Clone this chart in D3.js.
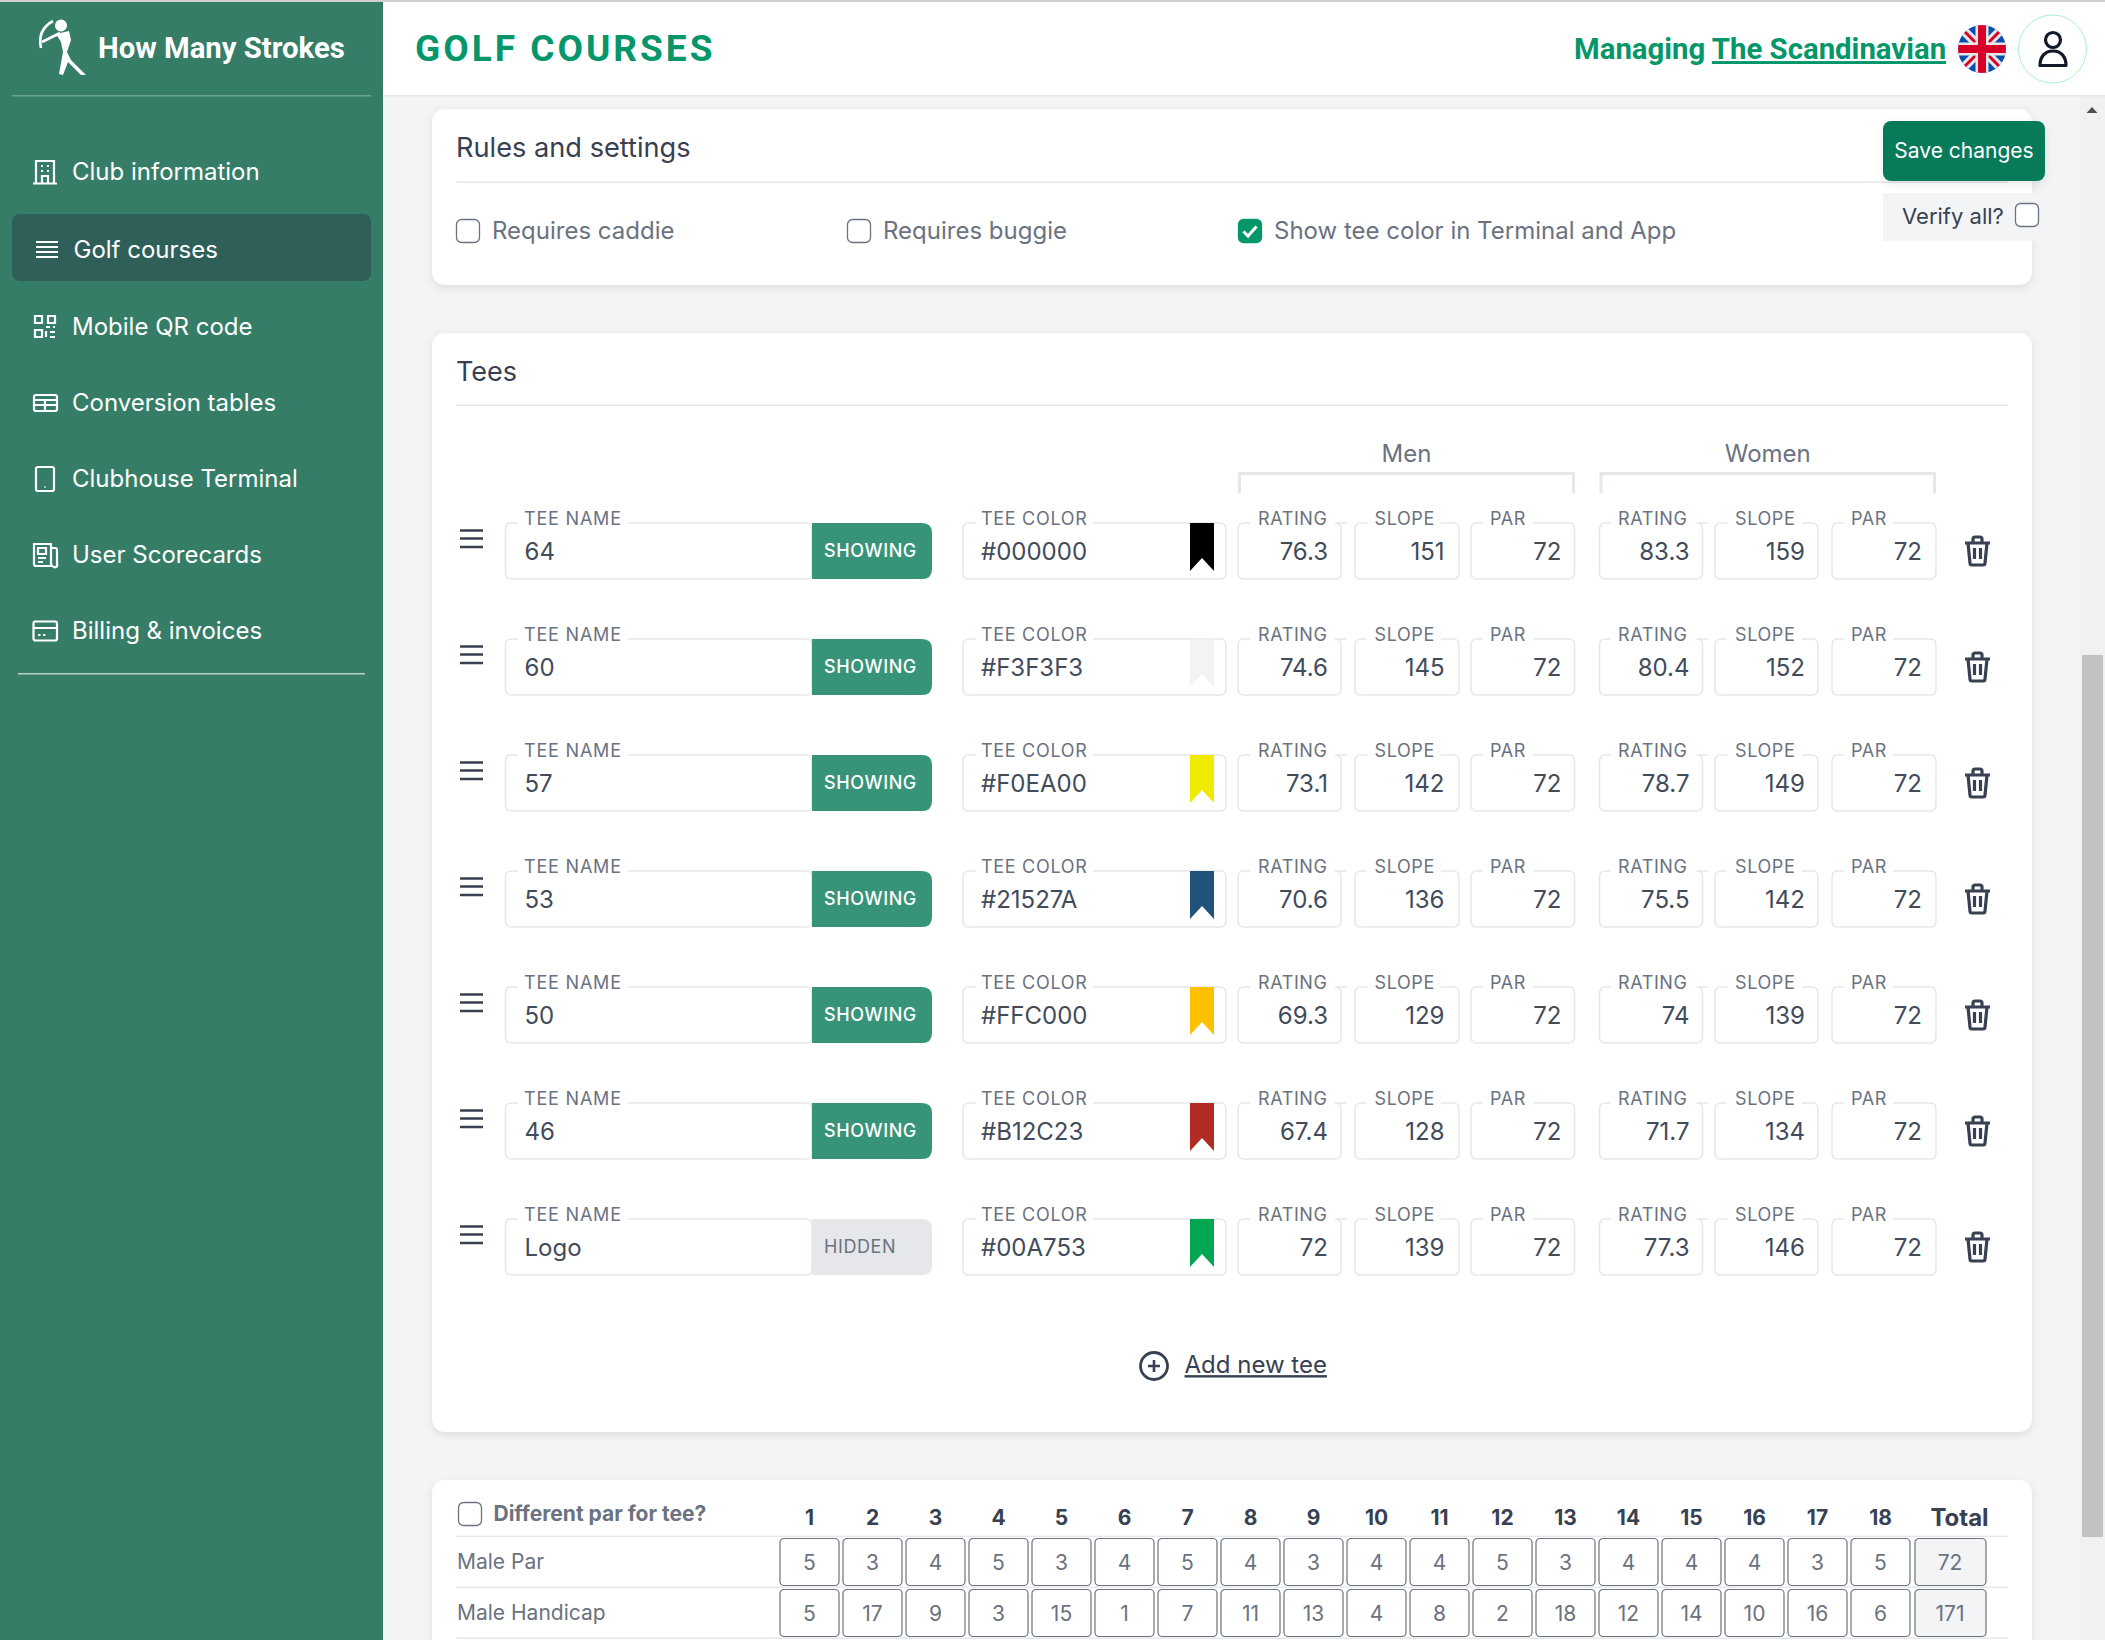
<!DOCTYPE html>
<html>
<head>
<meta charset="utf-8">
<script src="https://cdnjs.cloudflare.com/ajax/libs/d3/7.8.5/d3.min.js"></script>
<style>
  html, body { margin: 0; padding: 0; background: #f3f4f6; overflow: hidden; }
  svg { display: block; }
  text { font-family: Inter, sans-serif; }
  .card { filter: drop-shadow(0 3px 4px rgba(0,0,0,.09)); }
</style>
</head>
<body>
<div class="canvas"></div>
<script>
const dimensions = { width: 2105, height: 1640, side: 383, head: 96 };
const { width, height, side, head } = dimensions;

//Data
const navItems = [
  { name: 'Club information', y: 171.5, x: 72, icon: 'building' },
  { name: 'Golf courses', y: 249.5, x: 73.5, icon: 'menu', active: true },
  { name: 'Mobile QR code', y: 326.5, x: 72, icon: 'qr' },
  { name: 'Conversion tables', y: 402.5, x: 72, icon: 'table' },
  { name: 'Clubhouse Terminal', y: 478.5, x: 72, icon: 'tablet' },
  { name: 'User Scorecards', y: 554.5, x: 72, icon: 'news' },
  { name: 'Billing & invoices', y: 630.5, x: 72, icon: 'card' }
];

const tees = [
  { name: '64', shown: true, color: '#000000', men: ['76.3', '151', '72'], women: ['83.3', '159', '72'] },
  { name: '60', shown: true, color: '#F3F3F3', men: ['74.6', '145', '72'], women: ['80.4', '152', '72'] },
  { name: '57', shown: true, color: '#F0EA00', men: ['73.1', '142', '72'], women: ['78.7', '149', '72'] },
  { name: '53', shown: true, color: '#21527A', men: ['70.6', '136', '72'], women: ['75.5', '142', '72'] },
  { name: '50', shown: true, color: '#FFC000', men: ['69.3', '129', '72'], women: ['74', '139', '72'] },
  { name: '46', shown: true, color: '#B12C23', men: ['67.4', '128', '72'], women: ['71.7', '134', '72'] },
  { name: 'Logo', shown: false, color: '#00A753', men: ['72', '139', '72'], women: ['77.3', '146', '72'] }
];

const scoreRows = [
  { name: 'Male Par', values: [5, 3, 4, 5, 3, 4, 5, 4, 3, 4, 4, 5, 3, 4, 4, 4, 3, 5], total: 72 },
  { name: 'Male Handicap', values: [5, 17, 9, 3, 15, 1, 7, 11, 13, 4, 8, 2, 18, 12, 14, 10, 16, 6], total: 171 }
];

const scoreFields = [
  { label: 'RATING', x0: 1238, x1: 1341, tx: 1258, pad: 13, gap: [1250, 1347] },
  { label: 'SLOPE', x0: 1355, x1: 1459, tx: 1374.5, pad: 14.5, gap: [1367, 1441] },
  { label: 'PAR', x0: 1471, x1: 1574.5, tx: 1490, pad: 13, gap: [1483, 1533] },
  { label: 'RATING', x0: 1599.5, x1: 1702.5, tx: 1618, pad: 13, gap: [1611, 1708] },
  { label: 'SLOPE', x0: 1715, x1: 1818, tx: 1735, pad: 13, gap: [1727, 1802] },
  { label: 'PAR', x0: 1832, x1: 1936, tx: 1851, pad: 14, gap: [1844, 1893] }
];

//Scales
const rowY = d3.scaleLinear().domain([0, tees.length - 1]).range([523, 1219]);
const holeX = d3.scaleLinear().domain([1, 18]).range([809.5, 1880.5]);
const scoreY = d3.scaleLinear().domain([0, 1]).range([1538, 1589]);

//Colors
const green = '#059669';
const textDark = '#374151';
const textValue = '#414b5a';
const textGray = '#6b7280';
const line = '#e5e7eb';

//Canvas
const svg = d3.select('.canvas').append('svg').attr('width', width).attr('height', height);

const addText = (g, str, x, y, size, fill, opts = {}) =>
  g.append('text')
    .attr('x', x)
    .attr('y', y)
    .attr('dy', '0.36em')
    .attr('font-size', size)
    .attr('fill', fill)
    .attr('text-anchor', opts.anchor || 'start')
    .attr('font-weight', opts.weight || 400)
    .attr('letter-spacing', opts.spacing || 0)
    .style('font-family', opts.family || null)
    .text(str);

const addCheckbox = (g, x, y, w, h, checked) => {
  g.append('rect')
    .attr('x', x + 0.5).attr('y', y + 0.5)
    .attr('width', w - 1).attr('height', h - 1).attr('rx', 5)
    .attr('fill', checked ? green : '#fff')
    .attr('stroke', checked ? green : textGray)
    .attr('stroke-width', 1.3);
  if (checked) {
    g.append('path')
      .attr('d', `M${x + 5.5} ${y + 12.5}l4.5 4.5l8.5 -9.5`)
      .attr('fill', 'none').attr('stroke', '#fff').attr('stroke-width', 3);
  }
};

//Page background
svg.append('rect').attr('width', width).attr('height', height).attr('fill', '#f3f4f6');

//Scrollbar
svg.append('rect').attr('x', 2080).attr('y', head).attr('width', 25).attr('height', height - head).attr('fill', '#f1f1f1');
svg.append('rect').attr('x', 2082).attr('y', 655).attr('width', 21).attr('height', 882).attr('fill', '#c1c1c1');
svg.append('path').attr('d', 'M2086.5 113l5.5 -6l5.5 6z').attr('fill', '#505050');

//Cards
const cards = [
  { y: 109, h: 176 },
  { y: 333, h: 1099 },
  { y: 1480, h: 300 }
];
svg.append('g').selectAll('rect').data(cards).join('rect')
  .attr('class', 'card')
  .attr('x', 432).attr('y', (d) => d.y)
  .attr('width', 1600).attr('height', (d) => d.h)
  .attr('rx', 13).attr('fill', '#fff');

//Header
svg.append('rect').attr('x', side).attr('width', width - side).attr('height', head).attr('fill', '#fff');
svg.append('rect').attr('x', side).attr('y', head - 1).attr('width', width - side).attr('height', 1.5).attr('fill', '#e5e7eb');
svg.append('rect').attr('width', width).attr('height', 2).attr('fill', '#cfcfcf');

const header = svg.append('g');
addText(header, 'GOLF COURSES', 415, 48, 37, green, { weight: 700, spacing: 3, family: 'Roboto' });
const managing = addText(header, 'Managing ', 1574, 48.5, 29.35, green, { weight: 700, family: 'Roboto' });
managing.attr('xml:space', 'preserve').style('white-space', 'pre');
managing.append('tspan').attr('text-decoration', 'underline').text('The Scandinavian');

//Flag
const defs = svg.append('defs');
defs.append('clipPath').attr('id', 'flagClip').append('circle').attr('cx', 1982).attr('cy', 49).attr('r', 24);
const flag = svg.append('g').attr('clip-path', 'url(#flagClip)');
flag.append('rect').attr('x', 1958).attr('y', 25).attr('width', 48).attr('height', 48).attr('fill', '#0a4eb0');
flag.append('path').attr('d', 'M1958 25L2006 73M2006 25L1958 73').attr('stroke', '#e8e8e8').attr('stroke-width', 9);
flag.append('path').attr('d', 'M1958 25L2006 73M2006 25L1958 73').attr('stroke', '#d80027').attr('stroke-width', 3);
flag.append('path').attr('d', 'M1982 25V73M1958 49H2006').attr('stroke', '#e8e8e8').attr('stroke-width', 13);
flag.append('path').attr('d', 'M1982 25V73M1958 49H2006').attr('stroke', '#d80027').attr('stroke-width', 8);

//User button
svg.append('circle').attr('cx', 2052.5).attr('cy', 49).attr('r', 34).attr('fill', '#fff').attr('stroke', '#a7f3d0').attr('stroke-width', 1);
svg.append('circle').attr('cx', 2053).attr('cy', 40).attr('r', 7.5).attr('fill', 'none').attr('stroke', '#111827').attr('stroke-width', 3.2);
svg.append('path').attr('d', 'M2040 65.5c0 -9 5 -14.5 13 -14.5s13 5.5 13 14.5z').attr('fill', 'none').attr('stroke', '#111827').attr('stroke-width', 3.2).attr('stroke-linejoin', 'round');

//Sidebar
const sidebar = svg.append('g');
sidebar.append('rect').attr('width', side).attr('y', 2).attr('height', height).attr('fill', '#367d68');
sidebar.append('rect').attr('x', 12).attr('y', 95).attr('width', 359).attr('height', 1.5).attr('fill', '#6ba594');
sidebar.append('rect').attr('x', 12).attr('y', 214).attr('width', 359).attr('height', 67).attr('rx', 8).attr('fill', '#2f5f59');
sidebar.append('rect').attr('x', 18).attr('y', 673).attr('width', 347).attr('height', 1.5).attr('fill', '#b9d3ca');

//Logo
const logo = sidebar.append('g').attr('fill', '#fff').attr('stroke', 'none');
logo.append('circle').attr('cx', 61).attr('cy', 25.5).attr('r', 6);
logo.append('path').attr('d', 'M56 34L69 31L71 40L67 52L71 60L86 75L81 75L68 62L63 75L59 74L63 52L61 42Z');
logo.append('path').attr('d', 'M53 21Q37 30 41 48').attr('fill', 'none').attr('stroke', '#fff').attr('stroke-width', 2.6);
logo.append('path').attr('d', 'M42 42L60 33').attr('fill', 'none').attr('stroke', '#fff').attr('stroke-width', 2.6);
addText(sidebar, 'How Many Strokes', 98, 47.5, 29.3, '#fff', { weight: 700, family: 'Roboto' });

//Nav Icons, drawn in a 24 box
const icons = {
  building: 'M0 23.5H24M3 23.5V1H21V23.5M9 23.5V16H15V23.5M8 6H10M14 6H16M8 11H10M14 11H16',
  menu: 'M1 4H23M1 9H23M1 14H23M1 19H23',
  qr: 'M2 1H9V8H2ZM2 15H9V22H2ZM15 1H22V8H15ZM13 12H17M20 12H22M13 16V22M17 17H22M17 22H22',
  table: 'M3 4H22A2 2 0 0 1 24 6V18A2 2 0 0 1 22 20H3A2 2 0 0 1 1 18V6A2 2 0 0 1 3 4ZM1 9H24M1 14H24M12 9V20',
  tablet: 'M5 0H19A2 2 0 0 1 21 2V22A2 2 0 0 1 19 24H5A2 2 0 0 1 3 22V2A2 2 0 0 1 5 0ZM11.5 20H12.5',
  news: 'M1 1H18V21A2 2 0 0 0 20 23H3A2 2 0 0 1 1 21ZM18 5H22A2 2 0 0 1 24 7V21A2 2 0 0 1 20 23M5 5H13V11H5ZM5 15H13M5 19H10',
  card: 'M3 2.5H22A2 2 0 0 1 24 4.5V19.5A2 2 0 0 1 22 21.5H3A2 2 0 0 1 0.5 19.5V4.5A2 2 0 0 1 3 2.5ZM0.5 9H24M5 16H7.5M10 16H12.5'
};

const nav = sidebar.append('g').selectAll('g').data(navItems).join('g');
nav.append('path')
  .attr('transform', (d) => `translate(${d.icon === 'menu' ? 35 : 33},${d.y - 11.5})`)
  .attr('d', (d) => icons[d.icon])
  .attr('fill', 'none').attr('stroke', '#fff').attr('stroke-width', 2.2);
nav.append('text')
  .attr('x', (d) => d.x).attr('y', (d) => d.y).attr('dy', '0.36em')
  .attr('font-size', 24).attr('fill', '#fff')
  .text((d) => d.name);

//Rules and settings
const rules = svg.append('g');
addText(rules, 'Rules and settings', 456, 147, 27.2, textDark);
rules.append('rect').attr('x', 456).attr('y', 181.5).attr('width', 1552).attr('height', 1.5).attr('fill', line);
[
  { x: 456, tx: 492, label: 'Requires caddie', checked: false },
  { x: 847, tx: 883, label: 'Requires buggie', checked: false },
  { x: 1238, tx: 1274, label: 'Show tee color in Terminal and App', checked: true }
].forEach((d) => {
  addCheckbox(rules, d.x, 219, 24, 24, d.checked);
  addText(rules, d.label, d.tx, 230, 24, textGray);
});

//Save Button
const save = svg.append('g');
save.append('rect').attr('x', 1883).attr('y', 193).attr('width', 162).attr('height', 48).attr('fill', '#f3f4f6');
save.append('rect').attr('class', 'card').attr('x', 1883).attr('y', 121).attr('width', 162).attr('height', 60).attr('rx', 8).attr('fill', '#077a5a');
addText(save, 'Save changes', 1964, 150.5, 21, '#fff', { anchor: 'middle' });
addText(save, 'Verify all?', 1902, 216.5, 22, textDark);
addCheckbox(save, 2015, 203, 24, 24, false);

//Tees
const teesCard = svg.append('g');
addText(teesCard, 'Tees', 456, 371, 27, textDark);
teesCard.append('rect').attr('x', 456).attr('y', 404.5).attr('width', 1552).attr('height', 1.5).attr('fill', line);

[
  { name: 'Men', x0: 1238, x1: 1575 },
  { name: 'Women', x0: 1599.5, x1: 1936 }
].forEach((d) => {
  addText(teesCard, d.name, (d.x0 + d.x1) / 2, 453, 24, textGray, { anchor: 'middle' });
  teesCard.append('path')
    .attr('d', `M${d.x0 + 1.5} 493V473.5H${d.x1 - 1.5}V493`)
    .attr('fill', 'none').attr('stroke', line).attr('stroke-width', 3);
});

//Outline box with a gap left for the floating label
const fieldPath = (x0, x1, y, gap) => {
  const r = 6;
  const h = 56;
  return `M${gap[0]} ${y}H${x0 + r}Q${x0} ${y} ${x0} ${y + r}V${y + h - r}Q${x0} ${y + h} ${x0 + r} ${y + h}` +
    `H${x1 - r}Q${x1} ${y + h} ${x1} ${y + h - r}V${y + r}Q${x1} ${y} ${x1 - r} ${y}H${gap[1]}`;
};

const rows = teesCard.append('g').selectAll('g').data(tees).join('g')
  .attr('transform', (d, i) => `translate(0,${rowY(i) - 523})`);

rows.each(function (d) {
  const row = d3.select(this);
  const top = 523;

  //Drag handle
  row.append('path')
    .attr('d', `M460 ${top + 7.5}H483M460 ${top + 15.5}H483M460 ${top + 24}H483`)
    .attr('stroke', textDark).attr('stroke-width', 2.4);

  //Tee name
  row.append('path').attr('d', fieldPath(505.5, 812, top, [518, 628]))
    .attr('fill', 'none').attr('stroke', line).attr('stroke-width', 1.5);
  addText(row, 'TEE NAME', 524, top - 4, 18, textGray, { spacing: 0.8 });
  addText(row, d.name, 524.5, top + 28, 24, textValue);

  //Showing Button
  row.append('path')
    .attr('d', `M812 ${top}H922Q932 ${top} 932 ${top + 10}V${top + 46}Q932 ${top + 56} 922 ${top + 56}H812Z`)
    .attr('fill', d.shown ? '#389478' : '#e5e7eb');
  addText(row, d.shown ? 'SHOWING' : 'HIDDEN', 824, top + 28, 18, d.shown ? '#fff' : textGray, { spacing: 0.6, weight: d.shown ? 500 : 400 });

  //Tee color
  row.append('path').attr('d', fieldPath(963, 1226, top, [976, 1093]))
    .attr('fill', 'none').attr('stroke', line).attr('stroke-width', 1.5);
  addText(row, 'TEE COLOR', 981, top - 4, 18, textGray, { spacing: 0.7 });
  addText(row, d.color, 981, top + 28, 24, textValue);
  row.append('path')
    .attr('d', `M1190 ${top}H1214V${top + 48}L1202 ${top + 35}L1190 ${top + 48}Z`)
    .attr('fill', d.color);

  //Rating, Slope and Par for Men and Women
  const values = d.men.concat(d.women);
  scoreFields.forEach((f, i) => {
    row.append('path').attr('d', fieldPath(f.x0, f.x1, top, f.gap))
      .attr('fill', 'none').attr('stroke', line).attr('stroke-width', 1.5);
    addText(row, f.label, f.tx, top - 4, 18, textGray, { spacing: 0.6 });
    addText(row, values[i], f.x1 - f.pad, top + 28, 24, textValue, { anchor: 'end' });
  });

  //Trash
  row.append('path')
    .attr('transform', `translate(1964,${top + 13})`)
    .attr('d', 'M1 7H26M4 7L6 27A2 2 0 0 0 8 29H19A2 2 0 0 0 21 27L23 7M9 7V3A2 2 0 0 1 11 1H16A2 2 0 0 1 18 3V7M10.5 12V23M16.5 12V23')
    .attr('fill', 'none').attr('stroke', textDark).attr('stroke-width', 3.2);
});

//Add new tee
const addTee = svg.append('g');
addTee.append('circle').attr('cx', 1154).attr('cy', 1366).attr('r', 13.5).attr('fill', 'none').attr('stroke', textDark).attr('stroke-width', 2.8);
addTee.append('path').attr('d', 'M1154 1360V1372M1148 1366H1160').attr('stroke', textDark).attr('stroke-width', 2.6);
addText(addTee, 'Add new tee', 1184.5, 1364.5, 24, textDark).attr('text-decoration', 'underline');

//Scorecard
const score = svg.append('g');
addCheckbox(score, 458, 1502, 24, 24, false);
addText(score, 'Different par for tee?', 493.5, 1513, 21, textGray, { weight: 700 });

const holes = d3.range(1, 19);
score.append('g').selectAll('text').data(holes).join('text')
  .attr('x', (d) => holeX(d)).attr('y', 1517).attr('dy', '0.36em')
  .attr('text-anchor', 'middle').attr('font-size', 21).attr('font-weight', 700).attr('fill', textDark)
  .text((d) => d);
addText(score, 'Total', 1959.5, 1517, 24, textDark, { anchor: 'middle', weight: 700 });

[1536, 1587, 1638].forEach((y) => {
  score.append('rect').attr('x', 456).attr('y', y - 0.5).attr('width', 1552).attr('height', 1.5).attr('fill', line);
});

const scoreGroups = score.append('g').selectAll('g').data(scoreRows).join('g')
  .attr('transform', (d, i) => `translate(0,${scoreY(i)})`);

scoreGroups.append('text')
  .attr('x', 457).attr('y', 23.5).attr('dy', '0.36em')
  .attr('font-size', 21).attr('fill', textGray)
  .text((d) => d.name);

const cells = scoreGroups.selectAll('g.cell')
  .data((d) => d.values.map((v, i) => ({ hole: i + 1, v })))
  .join('g').attr('class', 'cell');
cells.append('rect')
  .attr('x', (d) => holeX(d.hole) - 29.5).attr('y', 0.5)
  .attr('width', 59).attr('height', 47).attr('rx', 4)
  .attr('fill', '#fff').attr('stroke', textGray).attr('stroke-width', 1.2);
cells.append('text')
  .attr('x', (d) => holeX(d.hole)).attr('y', 24).attr('dy', '0.36em')
  .attr('text-anchor', 'middle').attr('font-size', 21).attr('fill', textGray)
  .text((d) => d.v);

scoreGroups.append('rect')
  .attr('x', 1915).attr('y', 0.5).attr('width', 71).attr('height', 47).attr('rx', 4)
  .attr('fill', '#f3f4f6').attr('stroke', textGray).attr('stroke-width', 1.2);
scoreGroups.append('text')
  .attr('x', 1950).attr('y', 24).attr('dy', '0.36em')
  .attr('text-anchor', 'middle').attr('font-size', 21).attr('fill', textGray)
  .text((d) => d.total);
</script>
</body>
</html>
